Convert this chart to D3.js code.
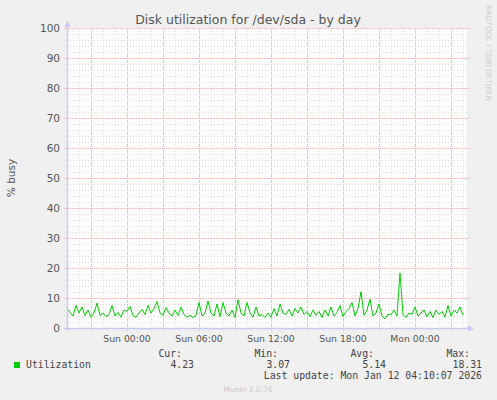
<!DOCTYPE html>
<html>
<head>
<meta charset="UTF-8">
<title>Disk utilization for /dev/sda - by day</title>
<script src="https://d3js.org/d3.v7.min.js"></script>
<style>html,body{margin:0;padding:0;background:#f0f0f0;} svg{display:block;}</style>
</head>
<body>
<div id="container"></div>
<script>
// time span of the day graph (one value every 15 min)
const startTime = Date.UTC(2026, 0, 10, 19, 0)
const endTime = Date.UTC(2026, 0, 12, 4, 20)
const stepMinutes = 15

// % busy
const utilization = [
  6.5, 5.2, 4.0, 7.5, 5.0, 7.0, 4.2, 6.0, 3.6, 5.0, 8.3, 4.2, 5.0, 3.8, 4.5, 7.5, 4.0,
  5.2, 3.6, 6.0, 5.5, 7.2, 4.2, 3.6, 5.0, 6.2, 4.5, 7.5, 5.0, 6.4, 8.8, 5.0, 4.2, 6.8,
  5.0, 4.0, 6.0, 4.2, 7.0, 4.5, 3.6, 4.2, 3.5, 4.2, 8.5, 4.0, 5.0, 9.0, 5.0, 4.0, 8.0,
  3.8, 8.5, 5.0, 4.0, 6.0, 3.5, 9.5, 5.0, 4.0, 8.5, 5.0, 3.6, 7.0, 4.0, 4.5, 3.5,
  5.0, 3.6, 6.5, 4.0, 8.0, 5.0, 4.5, 6.2, 4.0, 6.5, 5.0, 7.0, 4.5, 5.5, 3.8, 6.0, 4.2,
  5.5, 3.5, 6.0, 4.0, 7.0, 4.0, 5.2, 7.5, 3.8, 5.5, 6.5, 8.5, 4.0, 6.5, 12.1, 4.2,
  6.0, 9.6, 4.0, 5.0, 8.0, 4.0, 3.07, 4.6, 4.5, 6.0, 4.0, 18.31, 4.5, 3.5, 5.0, 4.5,
  7.0, 4.0, 5.0, 6.0, 3.8, 5.5, 3.5, 6.0, 4.5, 5.5, 3.6, 7.5, 4.0, 6.0, 5.0, 7.0, 4.23
]
const yTicks = [0, 10, 20, 30, 40, 50, 60, 70, 80, 90, 100]
const legendHeads = ['Cur:', 'Min:', 'Avg:', 'Max:']
const legendValues = ['4.23', '3.07', '5.14', '18.31']
const lastUpdate = 'Last update: Mon Jan 12 04:10:07 2026'

const width = 497, height = 400
const plot = { left: 67, right: 467, top: 28, bottom: 328 }
const sans = '"DejaVu Sans", sans-serif'
const mono = '"DejaVu Sans Mono", monospace'

const svg = d3.select('#container').append('svg')
  .attr('width', width)
  .attr('height', height)

svg.append('rect').attr('width', width).attr('height', height).attr('fill', '#f0f0f0')
svg.append('rect')
  .attr('x', plot.left).attr('y', plot.top)
  .attr('width', plot.right - plot.left).attr('height', plot.bottom - plot.top)
  .attr('fill', '#ffffff')

const x = d3.scaleUtc().domain([startTime, endTime]).range([plot.left, plot.right])
const y = d3.scaleLinear().domain([0, 100]).range([plot.bottom, plot.top])

// grid
const grid = svg.append('g').attr('shape-rendering', 'crispEdges')
grid.selectAll('.hmin').data(d3.range(0, 101, 2).filter(v => v % 10 !== 0)).enter()
  .append('line')
  .attr('x1', plot.left - 3).attr('x2', plot.right + 2)
  .attr('y1', d => Math.round(y(d)) + 0.5).attr('y2', d => Math.round(y(d)) + 0.5)
  .attr('stroke', '#dadada').attr('stroke-dasharray', '1,2')
grid.selectAll('.vmin').data(x.ticks(d3.utcHour.every(1))).enter()
  .append('line')
  .attr('x1', d => Math.round(x(d)) + 0.5).attr('x2', d => Math.round(x(d)) + 0.5)
  .attr('y1', plot.top).attr('y2', plot.bottom + 3)
  .attr('stroke', '#dadada').attr('stroke-dasharray', '1,2')
grid.selectAll('.hmaj').data(yTicks).enter()
  .append('line')
  .attr('x1', plot.left - 3).attr('x2', plot.right + 2)
  .attr('y1', d => Math.round(y(d)) + 0.5).attr('y2', d => Math.round(y(d)) + 0.5)
  .attr('stroke', '#f2b4b4').attr('stroke-dasharray', '1,1')
grid.selectAll('.vmaj').data(x.ticks(d3.utcHour.every(3))).enter()
  .append('line')
  .attr('x1', d => Math.round(x(d)) + 0.5).attr('x2', d => Math.round(x(d)) + 0.5)
  .attr('y1', plot.top).attr('y2', plot.bottom + 3)
  .attr('stroke', '#f2b4b4').attr('stroke-dasharray', '1,1')

// y labels
svg.append('g').selectAll('text').data(yTicks).enter()
  .append('text')
  .attr('x', 60).attr('y', d => y(d)).attr('dy', '0.36em')
  .attr('text-anchor', 'end')
  .attr('font-family', sans).attr('font-size', 10.5).attr('fill', '#555')
  .text(d => d)

// x labels
const fmt = d3.utcFormat('%a %H:%M')
svg.append('g').selectAll('text').data(x.ticks(d3.utcHour.every(6))).enter()
  .append('text')
  .attr('x', d => x(d)).attr('y', 342)
  .attr('text-anchor', 'middle')
  .attr('font-family', sans).attr('font-size', 9.3).attr('fill', '#555')
  .text(d => fmt(d))

// data line
const times = utilization.map((v, i) => new Date(startTime + i * stepMinutes * 60000))
const line = d3.line().x((d, i) => x(times[i])).y(d => y(d))
svg.append('path')
  .datum(utilization)
  .attr('d', line)
  .attr('fill', 'none')
  .attr('stroke', '#00cc00')
  .attr('stroke-width', 1)

// axes with arrows
const axisColor = '#c8c8f4'
svg.append('line').attr('x1', plot.left + 0.5).attr('x2', plot.left + 0.5)
  .attr('y1', plot.bottom + 3).attr('y2', plot.top - 4)
  .attr('stroke', axisColor).attr('stroke-width', 1.5)
svg.append('path').attr('d', `M${plot.left - 2.5},${plot.top - 1}L${plot.left + 3.5},${plot.top - 1}L${plot.left + 0.5},${plot.top - 7}Z`)
  .attr('fill', axisColor)
svg.append('line').attr('x1', plot.left - 3).attr('x2', plot.right + 4)
  .attr('y1', plot.bottom + 0.5).attr('y2', plot.bottom + 0.5)
  .attr('stroke', axisColor).attr('stroke-width', 1.5)
svg.append('path').attr('d', `M${plot.right + 1},${plot.bottom - 2.5}L${plot.right + 1},${plot.bottom + 3.5}L${plot.right + 7},${plot.bottom + 0.5}Z`)
  .attr('fill', axisColor)

// title and axis label
svg.append('text')
  .attr('x', 248).attr('y', 24).attr('text-anchor', 'middle')
  .attr('font-family', sans).attr('font-size', 12.5).attr('fill', '#555')
  .text('Disk utilization for /dev/sda - by day')
svg.append('text')
  .attr('transform', 'translate(15,178) rotate(-90)')
  .attr('text-anchor', 'middle')
  .attr('font-family', sans).attr('font-size', 10.5).attr('fill', '#555')
  .text('% busy')
svg.append('text')
  .attr('transform', 'translate(486,53) rotate(90)')
  .attr('text-anchor', 'middle')
  .attr('font-family', sans).attr('font-size', 7.4).attr('fill', '#cccccc')
  .text('RRDTOOL / TOBI OETIKER')

// legend
svg.append('rect').attr('x', 14).attr('y', 362).attr('width', 6).attr('height', 6).attr('fill', '#00cc00')
svg.append('text').attr('x', 26).attr('y', 367.5)
  .attr('font-family', mono).attr('font-size', 9.8).attr('fill', '#444')
  .text('Utilization')
const legend = svg.append('g').attr('font-family', mono).attr('font-size', 9.8).attr('fill', '#444')
legend.selectAll('.head').data(legendHeads).enter()
  .append('text')
  .attr('x', (d, i) => 182 + i * 96).attr('y', 356.5).attr('text-anchor', 'end')
  .text(d => d)
legend.selectAll('.val').data(legendValues).enter()
  .append('text')
  .attr('x', (d, i) => 194 + i * 96).attr('y', 367.5).attr('text-anchor', 'end')
  .text(d => d)
legend.append('text').attr('x', 482).attr('y', 378.5).attr('text-anchor', 'end')
  .text(lastUpdate)

svg.append('text').attr('x', 248).attr('y', 392).attr('text-anchor', 'middle')
  .attr('font-family', sans).attr('font-size', 7.5).attr('fill', '#c8c8c8')
  .text('Munin 2.0.76')
</script>
</body>
</html>
